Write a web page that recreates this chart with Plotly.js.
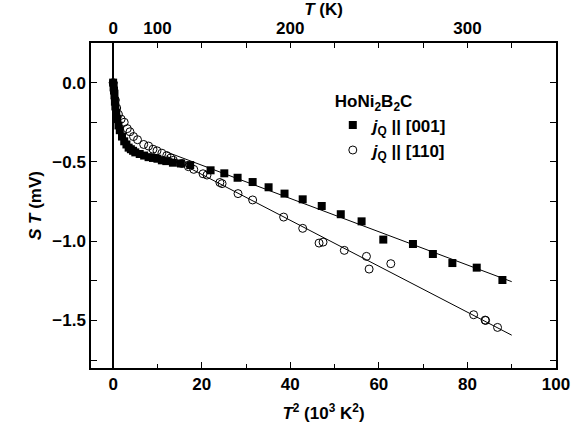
<!DOCTYPE html>
<html>
<head>
<meta charset="utf-8">
<script src="https://cdn.plot.ly/plotly-3.0.1.min.js"></script>
<style>body{margin:0;background:#fff}#plot{width:581px;height:437px}</style>
</head>
<body>
<div id="plot"></div>
<script>
// T^2 (10^3 K^2) and S*T (mV)
const SQ_X = [0, 0.1, 0.2, 0.3, 0.4, 0.5, 0.7, 0.9, 1.2, 1.5, 2, 2.5, 3, 3.5, 4, 4.5, 5, 6, 7, 8, 9, 10, 11, 12, 13.5, 15.3,
  17.4, 22, 25.1, 28.1, 31.5, 35.1, 38.7, 42.8, 47.1, 51.4, 56.1, 61.0, 67.7, 72.2, 76.6, 82.1, 87.9];
const SQ_Y = [0, -0.02, -0.05, -0.08, -0.12, -0.15, -0.19, -0.23, -0.27, -0.30, -0.34, -0.37, -0.39, -0.41, -0.42, -0.43, -0.44, -0.45, -0.46, -0.47, -0.475, -0.48, -0.49, -0.495, -0.505, -0.51,
  -0.52, -0.553, -0.572, -0.60, -0.627, -0.66, -0.70, -0.736, -0.778, -0.83, -0.875, -0.99, -1.018, -1.081, -1.138, -1.167, -1.245];
const CI_X = [0, 0.2, 0.5, 0.8, 1.2, 1.8, 2.5, 3.2, 3.8, 4.6, 5.5, 6.9, 8, 9, 9.9, 11, 12.1, 13, 13.6, 15.5, 17,
  18.2, 20.3, 21.2, 24.1, 24.6, 28.2, 31.5, 38.5, 42.8, 46.5, 47.4, 52.2, 57.2, 57.8, 62.7, 81.4, 84.1, 84.0, 86.8];
const CI_Y = [0, -0.05, -0.11, -0.16, -0.2, -0.23, -0.25, -0.29, -0.31, -0.34, -0.36, -0.39, -0.40, -0.42, -0.43, -0.445, -0.46, -0.475, -0.49, -0.51, -0.53,
  -0.547, -0.575, -0.583, -0.63, -0.637, -0.70, -0.74, -0.848, -0.919, -1.012, -1.006, -1.058, -1.096, -1.176, -1.142, -1.464, -1.50, -1.498, -1.544];
const TOP_TICKS = [0, 10, 20, 30, 40, 50, 60, 70, 80, 90, 100];
const TOP_TEXT = ['0', '100', '', '', '200', '', '', '', '300', '', ''];
const FIT_FROM = 15, LINE_X = [12, 90];

const FONT = 'Liberation Sans, Arial, sans-serif';

function fitLine(xs, ys) {
  let px = [], py = [];
  xs.forEach((x, i) => { if (x >= FIT_FROM) { px.push(x); py.push(ys[i]); } });
  let n = px.length;
  let mx = px.reduce((a, b) => a + b) / n, my = py.reduce((a, b) => a + b) / n;
  let sxy = 0, sxx = 0;
  for (let i = 0; i < n; i++) { sxy += (px[i] - mx) * (py[i] - my); sxx += (px[i] - mx) ** 2; }
  let k = sxy / sxx;
  return LINE_X.map(x => my + k * (x - mx));
}

const data = [
  {x: LINE_X, y: fitLine(SQ_X, SQ_Y), mode: 'lines', line: {color: '#000', width: 1}, showlegend: false, hoverinfo: 'skip'},
  {x: LINE_X, y: fitLine(CI_X, CI_Y), mode: 'lines', line: {color: '#000', width: 1}, showlegend: false, hoverinfo: 'skip'},
  {x: CI_X, y: CI_Y, mode: 'markers', name: '<b><i>j</i><sub>Q</sub> || [110]</b>',
    marker: {symbol: 'circle-open', size: 8, color: '#000', line: {width: 1}}},
  {x: SQ_X, y: SQ_Y, mode: 'markers', name: '<b><i>j</i><sub>Q</sub> || [001]</b>',
    marker: {symbol: 'square', size: 8, color: '#000'}},
  {x: [0], y: [0], xaxis: 'x2', mode: 'markers', marker: {opacity: 0}, showlegend: false, hoverinfo: 'skip'}
];

const axisCommon = {
  showline: true, linecolor: '#000', linewidth: 1.5, showgrid: false,
  ticks: 'inside', ticklen: 6, tickwidth: 1, tickcolor: '#000',
  tickfont: {family: FONT, size: 17, color: '#000', weight: 'bold'}
};

const layout = {
  width: 581, height: 437,
  margin: {l: 91, r: 25, t: 43, b: 69},
  paper_bgcolor: '#fff', plot_bgcolor: '#fff',
  font: {family: FONT, color: '#000'},
  xaxis: Object.assign({}, axisCommon, {
    range: [-5, 100], tick0: 0, dtick: 20, minor: {dtick: 10, ticks: 'inside', ticklen: 4, tickcolor: '#000'},
    zeroline: true, zerolinecolor: '#000', zerolinewidth: 2,
    title: {text: '<b><i>T</i><sup>2</sup> (10<sup>3</sup> K<sup>2</sup>)</b>', font: {size: 17}, standoff: 14}
  }),
  xaxis2: Object.assign({}, axisCommon, {
    overlaying: 'x', side: 'top', range: [-5, 100], tickmode: 'array',
    tickvals: TOP_TICKS, ticktext: TOP_TEXT, ticklen: 5, zeroline: false,
    title: {text: '<b><i>T</i> (K)</b>', font: {size: 17}, standoff: 0}
  }),
  yaxis: Object.assign({}, axisCommon, {
    range: [-1.8, 0.25], tick0: 0, dtick: 0.5, tickformat: '.1f', mirror: 'allticks', zeroline: false,
    minor: {dtick: 0.25, ticks: 'inside', ticklen: 4, tickcolor: '#000'},
    title: {text: '<b><i>S T</i> (mV)</b>', font: {size: 17}, standoff: 6}
  }),
  legend: {
    x: 0.52, y: 0.87, xanchor: 'left', yanchor: 'top', bgcolor: 'rgba(0,0,0,0)', traceorder: 'reversed',
    font: {family: FONT, size: 17, color: '#000'}, itemwidth: 30,
    title: {text: '<b>HoNi<sub>2</sub>B<sub>2</sub>C</b>', font: {size: 17}}
  }
};

Plotly.newPlot('plot', data, layout, {displayModeBar: false});
</script>
</body>
</html>
